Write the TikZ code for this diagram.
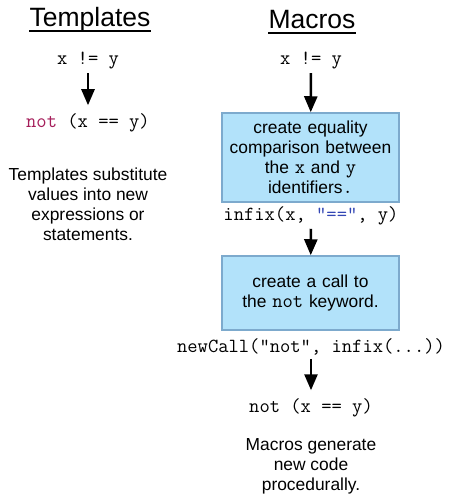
\documentclass[tikz,border=0pt]{standalone}
\usepackage{fontspec}
\setmainfont{Liberation Sans}
\usepackage{xcolor}
\definecolor{boxblue}{RGB}{178,226,250}
\definecolor{boxedge}{RGB}{125,170,205}
\definecolor{kwred}{RGB}{165,30,90}
\definecolor{opblue}{RGB}{50,70,180}
\usetikzlibrary{arrows.meta, positioning, calc}

\begin{document}
\begin{tikzpicture}[x=1pt, y=-1pt,
  title/.style={font=\fontsize{26.5}{30}\selectfont, inner sep=0pt},
  code/.style={font=\fontsize{20}{20}\selectfont\ttfamily},
  note/.style={font=\fontsize{17.4}{20}\selectfont, align=center},
  stepbox/.style={draw=boxedge, line width=1.5pt, fill=boxblue, minimum width=177pt,
                  text width=168pt, align=center, inner sep=0pt,
                  font=\fontsize{17.4}{20}\selectfont},
  flow/.style={-{Triangle[length=16pt,width=13pt]}, line width=2.6pt}]

\useasboundingbox (0,0) rectangle (450,498);

% --- Left column: templates ---
\node[title] (ttlT) at (90,20) {Templates};
\draw[line width=1.6pt] ($(ttlT.base west)+(0,4)$) -- ($(ttlT.base east)+(0,4)$);

\node[code] (tIn) at (88,61) {x != y};
\node[code] (tOut) at (88,123) {\textcolor{kwred}{not} (x == y)};
\draw[flow, shorten >=5pt] (tIn) -- (tOut);

\node[note] (tNote) at (88,204) {Templates substitute\\values into new\\expressions or\\statements.};

% --- Right column: macros ---
\node[title] (ttlM) at (312,20) {Macros};
\draw[line width=1.6pt] ($(ttlM.base west)+(0,4)$) -- ($(ttlM.base east)+(0,4)$);

\node[code] (mIn) at (311,61) {x != y};
\node[stepbox, minimum height=89pt] (mEq) at (310.5,157.5)
  {create equality\\comparison between\\the {\fontsize{20}{20}\selectfont\ttfamily x} and {\fontsize{20}{20}\selectfont\ttfamily y}\\identifiers{\fontsize{20}{20}\selectfont\ttfamily .}};
\draw[flow] (mIn) -- (mEq);

\node[code] (mInfix) at (311,216) {infix(x, \textcolor{opblue}{"=="}, y)};
\node[stepbox, minimum height=74pt] (mCall) at (310.5,293)
  {create a call to\\the {\fontsize{20}{20}\selectfont\ttfamily not} keyword.};
\draw[flow] (mInfix) -- (mCall);

\node[code] (mNew) at (311,347) {newCall("not", infix(...))};
\node[code] (mOut) at (311,408) {not (x == y)};
\draw[flow, shorten >=5pt] (mNew) -- (mOut);

\node[note] (mNote) at (311,466) {Macros generate\\new code\\procedurally.};

\end{tikzpicture}
\end{document}
